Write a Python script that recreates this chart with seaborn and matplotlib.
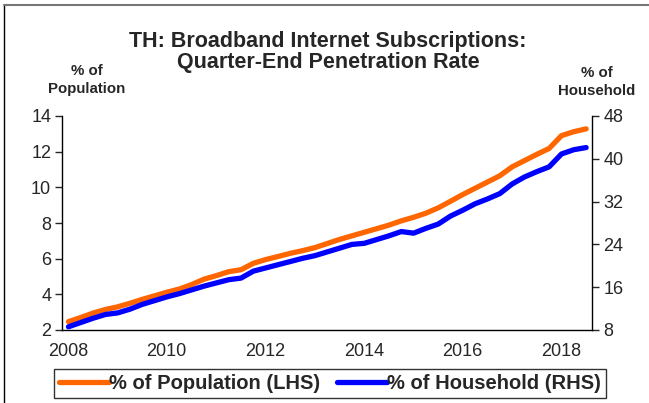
import matplotlib
matplotlib.use("Agg")
import matplotlib.pyplot as plt
import seaborn as sns
import numpy as np
import pandas as pd
from matplotlib.lines import Line2D

# quarterly data, 2008Q1 .. 2018Q3
years = list(range(2008, 2019))
quarters = [f"{y}Q{q}" for y in years for q in range(1, 5)][:43]

pop_pct = [2.47, 2.70, 2.95, 3.15,
           3.30, 3.50, 3.72, 3.92,
           4.12, 4.30, 4.55, 4.85,
           5.05, 5.27, 5.38, 5.74,
           5.95, 6.12, 6.30, 6.45,
           6.62, 6.85, 7.08, 7.28,
           7.48, 7.68, 7.88, 8.12,
           8.32, 8.55, 8.85, 9.22,
           9.60, 9.95, 10.30, 10.65,
           11.15, 11.50, 11.85, 12.18,
           12.90, 13.12, 13.28]

hh_pct = [8.6, 9.4, 10.2, 10.9,
          11.2, 11.9, 12.8, 13.5,
          14.2, 14.8, 15.5, 16.2,
          16.8, 17.4, 17.7, 19.0,
          19.6, 20.2, 20.8, 21.4,
          21.9, 22.6, 23.3, 24.0,
          24.2, 24.9, 25.6, 26.4,
          26.1, 27.0, 27.8, 29.3,
          30.4, 31.6, 32.5, 33.5,
          35.3, 36.6, 37.6, 38.5,
          40.9, 41.7, 42.1]

x_labels = ["2008", "2010", "2012", "2014", "2016", "2018"]

df = pd.DataFrame({"quarter": quarters, "pop": pop_pct, "hh": hh_pct})
df["t"] = [int(q[:4]) + (int(q[-1]) - 0.5) / 4 for q in df["quarter"]]

sns.set_style("white")
plt.rcParams["font.family"] = ["Liberation Sans", "DejaVu Sans"]

orange = "#FF6600"
blue = "#0000FF"

fig = plt.figure(figsize=(6.49, 4.03), dpi=100)
ax = fig.add_axes([62.3 / 649, 1 - 330 / 403, 530 / 649, 214 / 403])
ax2 = ax.twinx()

sns.lineplot(data=df, x="t", y="pop", ax=ax, color=orange, lw=3.8, legend=False)
sns.lineplot(data=df, x="t", y="hh", ax=ax2, color=blue, lw=3.8, legend=False)

ax.set_xlim(2008, 2018.75)
ax.set_ylim(2, 14)
ax2.set_ylim(8, 48)
ax.set_yticks(range(2, 15, 2))
ax2.set_yticks(range(8, 49, 8))
ax.set_xticks(range(2008, 2019))
ax.set_xticklabels([])
ax.set_xticks([int(l) + 0.115 for l in x_labels], labels=x_labels, minor=True)

for a in (ax, ax2):
    a.set_xlabel("")
    a.set_ylabel("")
    a.spines["top"].set_visible(False)
    for s in a.spines.values():
        s.set_color("black")
        s.set_linewidth(1.0)
    a.grid(False)

ax.spines["right"].set_visible(False)
ax2.spines["left"].set_visible(False)
ax2.spines["bottom"].set_visible(False)

ax.tick_params(axis="x", which="major", direction="out", length=5, width=1, color="#555555")
ax.tick_params(axis="x", which="minor", length=0, labelsize=13, pad=9)
ax.tick_params(axis="y", direction="out", length=5, width=1, labelsize=13, pad=3, left=True)
ax2.tick_params(axis="y", direction="out", length=5, width=1, labelsize=13, pad=3, right=True)

fig.text(328 / 649, 1 - 52 / 403, "TH: Broadband Internet Subscriptions:\nQuarter-End Penetration Rate",
         ha="center", va="center", fontsize=15.5, fontweight="bold", linespacing=1.05)
fig.text(87 / 649, 1 - 80 / 403, "% of\nPopulation", ha="center", va="center",
         fontsize=10.8, fontweight="bold", linespacing=1.35)
fig.text(597 / 649, 1 - 82 / 403, "% of\nHousehold", ha="center", va="center",
         fontsize=10.8, fontweight="bold", linespacing=1.35)

handles = [Line2D([], [], color=orange, lw=3.8), Line2D([], [], color=blue, lw=3.8)]
leg = fig.legend(handles, ["% of Population (LHS)", "% of Household (RHS)"],
                 loc="center", bbox_to_anchor=(330 / 649, 1 - 383.5 / 403), ncol=2,
                 frameon=True, fancybox=False, edgecolor="black", handlelength=2.5,
                 handletextpad=0.0, columnspacing=0.8, borderpad=0.25,
                 prop={"weight": "bold", "size": 14.5})
leg.get_frame().set_linewidth(1.0)

# outer frame (left and top edges)
fig.add_artist(Line2D([4 / 649, 4 / 649], [0, 1 - 5 / 403], color="black", lw=1, transform=fig.transFigure))
fig.add_artist(Line2D([4 / 649, 1], [1 - 5 / 403, 1 - 5 / 403], color="#777777", lw=1.5, transform=fig.transFigure))

fig.savefig("out.png", dpi=100)
